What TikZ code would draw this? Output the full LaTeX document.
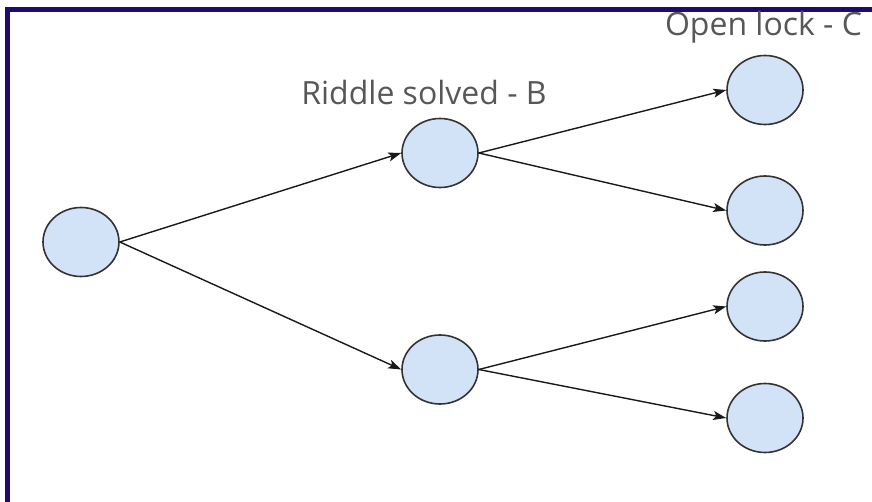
\documentclass[tikz,border=0pt]{standalone}
\usepackage{fontspec}
\setmainfont{Open Sans}
\usetikzlibrary{arrows.meta,shapes.geometric}
\definecolor{framec}{HTML}{1F0A6E}
\definecolor{nodefill}{HTML}{D2E3F8}
\definecolor{txt}{HTML}{575757}
\tikzset{
  state/.style={ellipse, draw=black!80, line width=1.6pt, fill=nodefill, minimum width=76pt, minimum height=69pt, inner sep=0pt},
  conn/.style={-{Stealth[length=13pt,width=9pt,inset=3pt]}, line width=1.4pt, black!90},
  lbl/.style={text=txt, font=\fontsize{32}{32}\selectfont, anchor=base, inner sep=0pt}
}
\begin{document}
\begin{tikzpicture}[x=1pt,y=-1pt]
\useasboundingbox (0,0) rectangle (872,502);
\draw[framec, line width=5pt] (7,520) -- (7,9.5) -- (890,9.5);
\node[state] (a) at (81,242) {};
\node[state] (b1) at (440,153) {};
\node[state] (b2) at (440,369.5) {};
\node[state] (c1) at (765,90) {};
\node[state] (c2) at (765,210.5) {};
\node[state] (c3) at (765,306.5) {};
\node[state] (c4) at (765,418) {};
\node[lbl] (lb) at (424,105) {Riddle solved - B};
\node[lbl] (lc) at (763.5,36) {Open lock - C};
\draw[conn] (a.east) -- (b1.west);
\draw[conn] (a.east) -- (b2.west);
\draw[conn] (b1.east) -- (c1.west);
\draw[conn] (b1.east) -- (c2.west);
\draw[conn] (b2.east) -- (c3.west);
\draw[conn] (b2.east) -- (c4.west);
\end{tikzpicture}
\end{document}
